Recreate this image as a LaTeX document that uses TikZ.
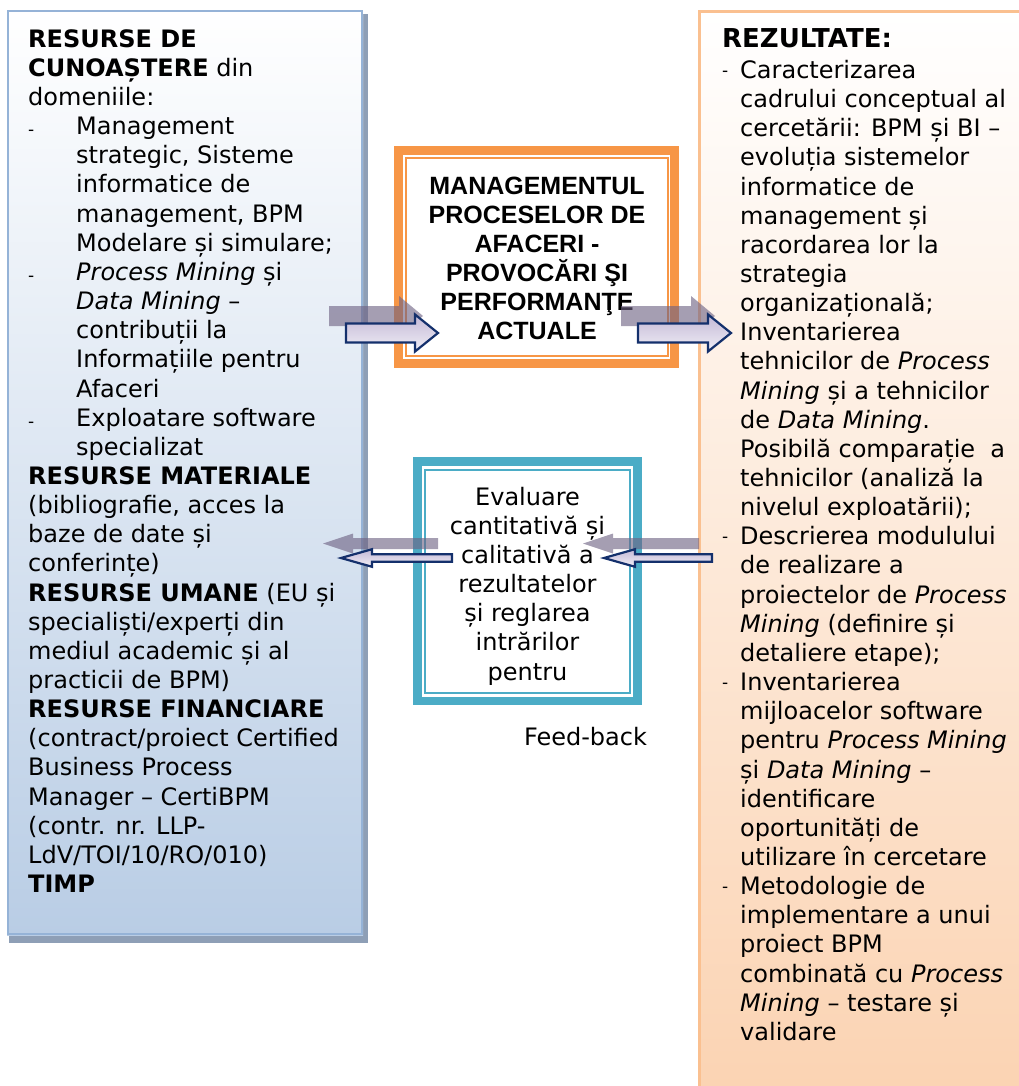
\documentclass[tikz,border=0pt]{standalone}
\usepackage{fontspec}
\setmainfont{DejaVu Sans}
\newfontfamily\headfont{Liberation Sans}
\usetikzlibrary{calc}

\definecolor{inBorder}{HTML}{95B3D7}
\definecolor{inShadow}{HTML}{8E9FB6}
\definecolor{inBottom}{HTML}{B9CDE5}
\definecolor{outBorder}{HTML}{FAC090}
\definecolor{outBottom}{HTML}{FBD3B2}
\definecolor{coreOrange}{HTML}{F79646}
\definecolor{loopTeal}{HTML}{4BACC6}
\definecolor{arrowNavy}{HTML}{14306C}
\definecolor{arrowTop}{HTML}{C3B9D6}
\definecolor{arrowBot}{HTML}{F1EEF6}
\definecolor{ghost}{HTML}{6E6283}

% hanging-indent helpers for the two lists
\newcommand\ldash{\makebox[48pt][l]{\raisebox{-1pt}{\fontsize{17}{17}\selectfont -}}}
\newcommand\lind{\hspace*{48pt}}
\newcommand\rdash{\makebox[18pt][l]{\raisebox{2pt}{\fontsize{17}{17}\selectfont -}}}
\newcommand\rind{\hspace*{18pt}}

% block arrow: #1 style, #2 tail, #3 tip, #4 shaft half width,
% #5 head half width, #6 head length (signed towards the tip)
\newcommand\blockarrow[6]{%
  \path[#1] let \p1=(#2), \p2=(#3) in
    (\x1,{\y1+#4pt}) -- ({\x2-(#6)*1pt},{\y1+#4pt}) -- ({\x2-(#6)*1pt},{\y1+#5pt})
    -- (\x2,\y2) -- ({\x2-(#6)*1pt},{\y1-#5pt}) -- ({\x2-(#6)*1pt},{\y1-#4pt})
    -- (\x1,{\y1-#4pt}) -- cycle;}

\begin{document}
\begin{tikzpicture}[x=1pt,y=-1pt,
  txt/.style={inner sep=0pt, font=\fontsize{24}{29.15}\selectfont},
  mainarrow/.style={draw=arrowNavy, line width=2.2pt, line join=miter,
    top color=arrowTop, bottom color=arrowBot},
  ghostarrow/.style={fill=ghost, fill opacity=0.62}]

\useasboundingbox (0,0) rectangle (1019,1086);

% input column
\fill[inShadow] (8.5,14) rectangle (368,943);
\shade[top color=white, bottom color=inBottom] (7,10) rectangle (363,935);
\draw[inBorder, line width=2.4pt] (8.2,11.2) rectangle (361.8,933.8);

% results column (runs off the page edge)
\begin{scope}
  \clip (0,0) rectangle (1019,1086);
  \shade[top color=white, bottom color=outBottom] (698,10) rectangle (1040,1100);
  \draw[outBorder, line width=3pt] (699.5,1120) -- (699.5,11.5) -- (1040,11.5);
\end{scope}

% central process box
\draw[coreOrange, line width=9pt] (398.5,150.5) rectangle (674.5,363.5);
\draw[coreOrange, line width=2pt] (406.3,158.3) rectangle (667.7,356);

% feedback box
\draw[loopTeal, line width=8.4pt] (417.5,461.5) rectangle (637.5,700.8);
\draw[loopTeal, line width=2pt] (425.3,470) rectangle (630.2,693.2);

% input text
\node[txt, anchor=north west, align=left] (inputs) at (28,26.6) {%
\strut\textbf{RESURSE DE}\\
\textbf{CUNOAȘTERE} din\\
domeniile:\\
\ldash Management\\
\lind strategic, Sisteme\\
\lind informatice de\\
\lind management, BPM\\
\lind Modelare și simulare;\\
\ldash \textit{Process Mining} și\\
\lind \textit{Data Mining} –\\
\lind contribuții la\\
\lind Informațiile pentru\\
\lind Afaceri\\
\ldash Exploatare software\\
\lind specializat\\
\textbf{RESURSE MATERIALE}\\
(bibliografie, acces la\\
baze de date și\\
conferințe)\\
\textbf{RESURSE UMANE} (EU și\\
specialiști/experți din\\
mediul academic și al\\
practicii de BPM)\\
\textbf{RESURSE FINANCIARE}\\
(contract/proiect Certified\\
Business Process\\
Manager – CertiBPM\\
(contr. nr. LLP-\\
LdV/TOI/10/RO/010)\\
\textbf{TIMP}};

% results text
\node[inner sep=0pt, anchor=base west, font=\fontsize{26}{30}\selectfont\bfseries]
  (restitle) at (722,48) {REZULTATE:};
\node[txt, anchor=north west, align=left] (results) at (722,57.8) {%
\rdash\strut Caracterizarea\\
\rind cadrului conceptual al\\
\rind cercetării: BPM și BI –\\
\rind evoluția sistemelor\\
\rind informatice de\\
\rind management și\\
\rind racordarea lor la\\
\rind strategia\\
\rind organizațională;\\
\rdash Inventarierea\\
\rind tehnicilor de \textit{Process}\\
\rind \textit{Mining} și a tehnicilor\\
\rind de \textit{Data Mining}.\\
\rind Posibilă comparație\ \ a\\
\rind tehnicilor (analiză la\\
\rind nivelul exploatării);\\
\rdash Descrierea modulului\\
\rind de realizare a\\
\rind proiectelor de \textit{Process}\\
\rind \textit{Mining} (definire și\\
\rind detaliere etape);\\
\rdash Inventarierea\\
\rind mijloacelor software\\
\rind pentru \textit{Process Mining}\\
\rind și \textit{Data Mining} –\\
\rind identificare\\
\rind oportunități de\\
\rind utilizare în cercetare\\
\rdash Metodologie de\\
\rind implementare a unui\\
\rind proiect BPM\\
\rind combinată cu \textit{Process}\\
\rind \textit{Mining} – testare și\\
\rind validare};

% central title
\node[inner sep=0pt, anchor=north, align=center,
  font=\headfont\bfseries\fontsize{25}{29}\selectfont] (core) at (537,173.7) {%
\strut MANAGEMENTUL\\
PROCESELOR DE\\
AFACERI -\\
PROVOCĂRI ŞI\\
PERFORMANŢE\\
ACTUALE};

% feedback text
\node[txt, anchor=north, align=center] (loop) at (527.5,484.6) {%
\strut Evaluare\\
cantitativă și\\
calitativă a\\
rezultatelor\\
și reglarea\\
intrărilor\\
pentru};
\node[txt, anchor=base] (fb) at (585.5,745) {Feed-back};

% arrow end points
\coordinate (a1t) at (346,333);  \coordinate (a1h) at (438,333);
\coordinate (a2t) at (638,333);  \coordinate (a2h) at (731,333);
\coordinate (a3t) at (452,558);  \coordinate (a3h) at (341,558);
\coordinate (a4t) at (712,558);  \coordinate (a4h) at (604,558);
\coordinate (g1t) at (329,316);  \coordinate (g1h) at (423,316);
\coordinate (g2t) at (621,316);  \coordinate (g2h) at (715,316);
\coordinate (g3t) at (438,543.5);\coordinate (g3h) at (323,543.5);
\coordinate (g4t) at (699,543.5);\coordinate (g4h) at (583,543.5);

% soft shadows behind the arrows
\blockarrow{ghostarrow}{g1t}{g1h}{10}{20}{24}
\blockarrow{ghostarrow}{g2t}{g2h}{10}{20}{24}
\blockarrow{ghostarrow}{g3t}{g3h}{5.5}{10}{-30}
\blockarrow{ghostarrow}{g4t}{g4h}{5.5}{10}{-30}

% arrows
\blockarrow{mainarrow}{a1t}{a1h}{9.5}{18.5}{23}
\blockarrow{mainarrow}{a2t}{a2h}{9.5}{18.5}{23}
\blockarrow{mainarrow}{a3t}{a3h}{3.8}{8.8}{-31}
\blockarrow{mainarrow}{a4t}{a4h}{3.8}{8.8}{-31}

\end{tikzpicture}
\end{document}
